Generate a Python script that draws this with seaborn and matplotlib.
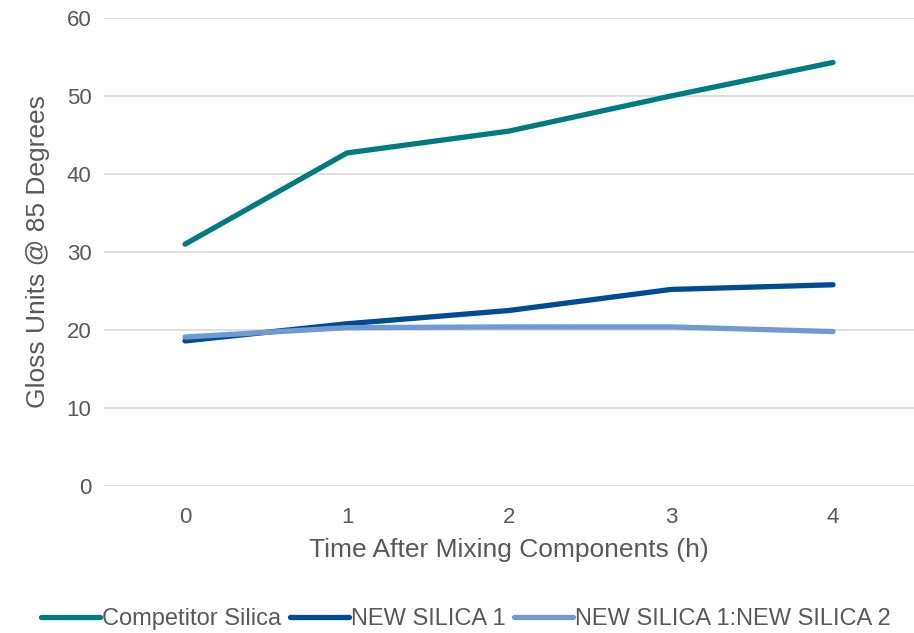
import matplotlib
matplotlib.use("Agg")
import matplotlib.pyplot as plt
import seaborn as sns
import pandas as pd

hours = [0, 1, 2, 3, 4]
competitor_silica = [31.0, 42.7, 45.5, 50.0, 54.3]
new_silica_1 = [18.6, 20.8, 22.5, 25.2, 25.8]
new_silica_blend = [19.1, 20.3, 20.4, 20.4, 19.8]

series_names = ["Competitor Silica", "NEW SILICA 1", "NEW SILICA 1:NEW SILICA 2"]
series_colors = ["#007B82", "#004B93", "#6F9AD3"]

df = pd.DataFrame({
    "hour": hours * 3,
    "gloss": competitor_silica + new_silica_1 + new_silica_blend,
    "series": [series_names[0]] * 5 + [series_names[1]] * 5 + [series_names[2]] * 5,
})

sns.set_theme(style="white")
plt.rcParams["font.family"] = ["Liberation Sans", "DejaVu Sans"]

fig = plt.figure(figsize=(9.14, 6.33), dpi=100)
ax = fig.add_axes([0.1138, 0.2322, 0.8862, 0.7394])

sns.lineplot(data=df, x="hour", y="gloss", hue="series", hue_order=series_names,
             palette=series_colors, linewidth=3.8, ax=ax, legend=False,
             solid_capstyle="round")

ax.set_xlim(-0.5, 4.5)
ax.set_ylim(0, 60)
ax.set_yticks(range(0, 61, 10))
ax.set_xticks(hours)
ax.yaxis.grid(True, color="#D9D9D9", linewidth=1.2)
ax.set_axisbelow(True)
for s in ax.spines.values():
    s.set_visible(False)
ax.tick_params(axis="y", length=0, labelsize=16, labelcolor="#595959", pad=9)
ax.tick_params(axis="x", length=0, labelsize=16, labelcolor="#595959", pad=15)

ax.set_xlabel("Time After Mixing Components (h)", fontsize=19, color="#595959", labelpad=7)
ax.set_ylabel("Gloss Units @ 85 Degrees", fontsize=19, color="#595959", labelpad=12)

handles = [plt.Line2D([0], [0], color=c, linewidth=3.8, solid_capstyle="round") for c in series_colors]
fig.legend(handles, series_names, loc="center", bbox_to_anchor=(0.51, 0.022), ncol=3,
           frameon=False, fontsize=17, handlelength=2.5, handletextpad=0.1, columnspacing=0.35,
           labelcolor="#595959")

fig.savefig("out.png", dpi=100)
